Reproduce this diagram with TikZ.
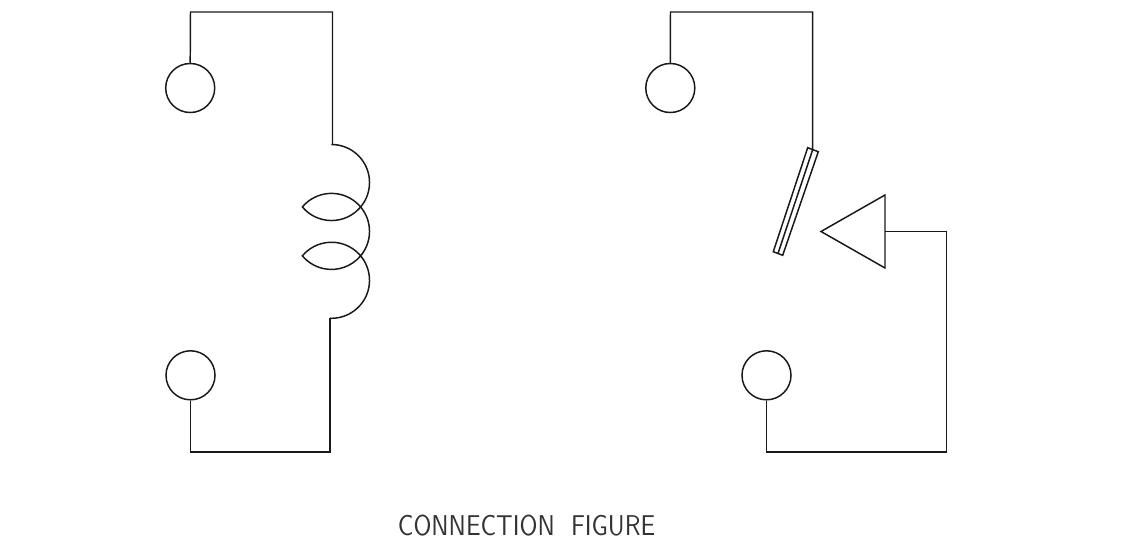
\documentclass[tikz,border=0pt]{standalone}
\usepackage{fontspec}
\usepackage{graphicx}

\begin{document}
\begin{tikzpicture}%
        [x=0.01cm,
        y=-0.01cm,
        wire/.style={color=black!90, line width=0.42pt},
        terminal/.style={circle,draw=black!90,line width=0.42pt,inner sep=0pt,minimum size=0.49cm}]
    \useasboundingbox (0,0) rectangle (1144,551);
    %% Terminals
    \node[terminal] (coilA) at (190.2,88) {};
    \node[terminal] (coilB) at (190.5,375.3) {};
    \node[terminal] (contactA) at (670.3,88) {};
    \node[terminal] (contactB) at (766.5,375.3) {};
    %% Corners of the wires
    \coordinate (coilAcorner) at (190.5,12);
    \coordinate (coilAbend) at (332.5,12);
    \coordinate (coilTop) at (332.5,144.5);
    \coordinate (coilBottom) at (330,318.2);
    \coordinate (coilBbend) at (330,452);
    \coordinate (coilBcorner) at (190.5,452);
    \coordinate (contactAcorner) at (670.5,12);
    \coordinate (contactAbend) at (812.7,12);
    \coordinate (bladeTop) at (812.7,149.7);
    \coordinate (bladeBottom) at (778,253.5);
    \coordinate (fixedTip) at (821,231.5);
    \coordinate (fixedUp) at (885,195);
    \coordinate (fixedDown) at (885,268);
    \coordinate (fixedBack) at (885,231.5);
    \coordinate (fixedBend) at (946.5,231.5);
    \coordinate (contactBbend) at (946.5,452);
    \coordinate (contactBcorner) at (766.5,452);
    %% Coil side
    \draw[wire] (coilA.north) -- (coilAcorner) -- (coilAbend) -- (coilTop);
    \draw[wire] (coilTop) -- (331.5,144.5) arc[start angle=90,end angle=-140,radius=0.38cm]
        arc[start angle=140,end angle=-140,radius=0.38cm]
        arc[start angle=140,end angle=-90,radius=0.38cm] -- (coilBottom);
    \draw[wire] (coilBottom) -- (coilBbend) -- (coilBcorner) -- (coilB.south);
    %% Contact side
    \draw[wire] (contactA.north) -- (contactAcorner) -- (contactAbend) -- (bladeTop);
    \draw[wire] (807.7,147.7) -- (818.3,151.7) -- (782.7,255.3) -- (773.3,251.7) -- cycle;
    \draw[wire] (bladeTop) -- (bladeBottom);
    \draw[wire] (fixedTip) -- (fixedUp) -- (fixedDown) -- cycle;
    \draw[wire] (fixedBack) -- (fixedBend) -- (contactBbend) -- (contactBcorner) -- (contactB.south);
    %% Caption
    \node[inner sep=0pt,color=black!80] (caption) at (526.5,525.5) {\resizebox{2.57cm}{0.205cm}{\sffamily\addfontfeature{LetterSpace=12}CONNECTION\ \ FIGURE}};
\end{tikzpicture}
\end{document}
